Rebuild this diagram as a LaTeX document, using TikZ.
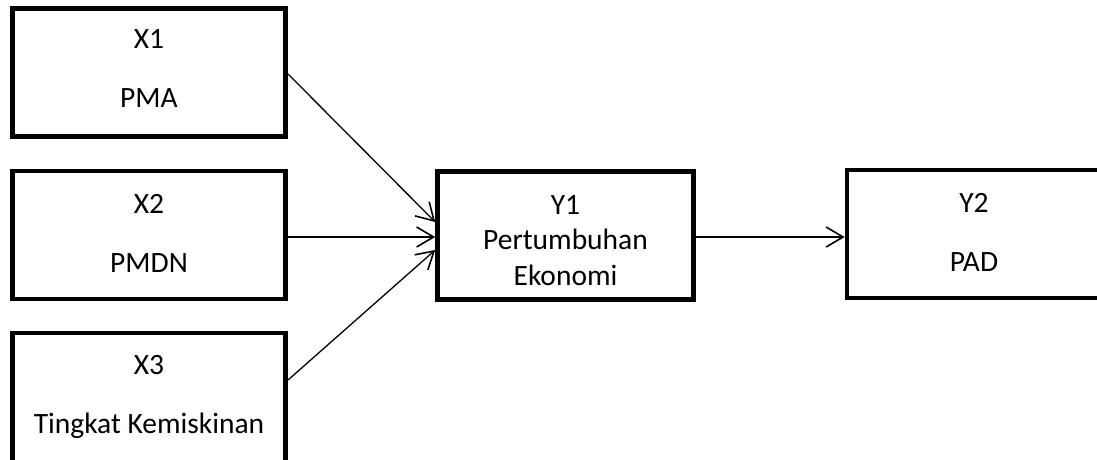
\documentclass[tikz,border=0pt]{standalone}
\usepackage{fontspec}
\setmainfont{Carlito}
\usetikzlibrary{arrows.meta}
\begin{document}
\begin{tikzpicture}[x=1pt,y=-1pt,
  box/.style={draw=black, line width=4.6pt, rectangle, inner sep=0pt, align=center, text=black},
  two/.style={font=\fontsize{29.5}{59}\selectfont},
  three/.style={font=\fontsize{29.5}{35.5}\selectfont},
  conn/.style={line width=1.3pt, -{Straight Barb[length=17pt,width=20pt,line width=1.6pt]}}]
\useasboundingbox (0,0) rectangle (1097,459);
\clip (0,0) rectangle (1097,459);
\node[box,two,minimum width=273.5pt,minimum height=128pt] (x1) at (149,72.5) {X1\\PMA\rule[-8pt]{0pt}{0pt}};
\node[box,two,minimum width=273.5pt,minimum height=128pt] (x2) at (149,235) {X2\\PMDN\rule[-3pt]{0pt}{0pt}};
\node[box,two,minimum width=273.5pt,minimum height=136pt] (x3) at (149,401) {X3\\Tingkat Kemiskinan\rule[-14pt]{0pt}{0pt}};
\node[box,three,minimum width=256pt,minimum height=128pt] (y1) at (565.5,235.5) {\rule{0pt}{29pt}Y1\\Pertumbuhan\\Ekonomi};
\node[box,two,minimum width=260pt,minimum height=128pt,text width=240pt] (y2) at (977,234) {\hspace*{-6pt}Y2\\\hspace*{-6pt}PAD\rule[-3pt]{0pt}{0pt}};
\draw[conn] ([yshift=-1.5pt]x1.east) -- ([yshift=13.5pt]y1.west);
\draw[conn] ([yshift=-2pt]x2.east) -- ([yshift=-2pt]x2.east -| y1.west);
\draw[conn] ([yshift=21pt]x3.east) -- ([yshift=-14.5pt]y1.west);
\draw[conn] ([yshift=-1.5pt]y1.east) -- ([yshift=-1.5pt]y1.east -| y2.west);
\end{tikzpicture}
\end{document}
